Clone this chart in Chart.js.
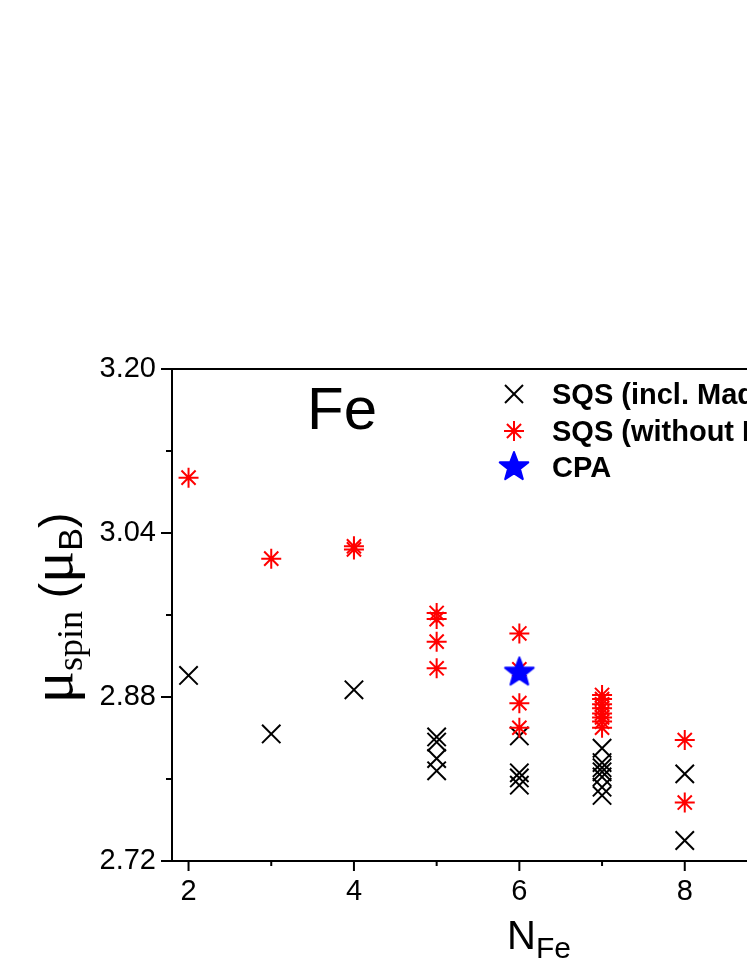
<!DOCTYPE html>
<html>
<head>
<meta charset="utf-8">
<script src="https://cdn.jsdelivr.net/npm/chart.js@4.4.0/dist/chart.umd.min.js"></script>
<style>
  html, body { margin: 0; padding: 0; overflow: hidden; background: #fff; }
  canvas { display: block; }
</style>
</head>
<body>
<canvas id="myChart" width="800" height="967"></canvas>
<script>
// SQS incl. Madelung (black crosses)
var madX = [2, 3, 4, 5, 5, 5, 5, 6, 6, 6, 6, 7, 7, 7, 7, 7, 7, 7, 8, 8];
var madY = [2.901, 2.844, 2.887, 2.841, 2.836, 2.820, 2.808, 2.842, 2.806, 2.801, 2.794,
            2.830, 2.816, 2.811, 2.807, 2.802, 2.792, 2.784, 2.805, 2.740];
// SQS without Madelung (red asterisks)
var noMadX = [2, 3, 4, 4, 5, 5, 5, 5, 6, 6, 6, 6, 7, 7, 7, 7, 7, 7, 7, 7, 8, 8];
var noMadY = [3.094, 3.015, 3.027, 3.024, 2.962, 2.956, 2.934, 2.908, 2.942, 2.907, 2.874, 2.850,
              2.882, 2.878, 2.873, 2.869, 2.864, 2.860, 2.856, 2.850, 2.838, 2.777];
// CPA (blue star)
var cpaX = [6];
var cpaY = [2.904];

var seriesLabels = ['SQS (incl. Madelung)', 'SQS (without Madelung)', 'CPA'];
var xTickLabels = [2, 4, 6, 8];
var xMinorTicks = [3, 5, 7, 9];
var yTickLabels = [2.72, 2.88, 3.04, 3.20];
var yMinorTicks = [2.80, 2.96, 3.12];

function toPoints(xs, ys) {
  return xs.map(function (x, i) { return { x: x, y: ys[i] }; });
}

function starPath(g, cx, cy, R) {
  g.beginPath();
  for (var i = 0; i < 10; i++) {
    var r = i % 2 ? R * 0.42 : R;
    var a = -Math.PI / 2 + i * Math.PI / 5;
    g.lineTo(cx + r * Math.cos(a), cy + r * Math.sin(a));
  }
  g.closePath();
}

function makeStar(R, color) {
  var c = document.createElement('canvas');
  var s = Math.ceil(2 * R + 6);
  c.width = s; c.height = s;
  var g = c.getContext('2d');
  starPath(g, s / 2, s / 2, R);
  g.fillStyle = color; g.fill();
  g.lineJoin = 'round'; g.lineWidth = 2; g.strokeStyle = color; g.stroke();
  return c;
}
var starImg = makeStar(15, '#0000ff');

var SANS = '"Liberation Sans", Arial, sans-serif';
var SERIF = '"Liberation Serif", "Times New Roman", serif';

function line(ctx, x1, y1, x2, y2) {
  ctx.beginPath(); ctx.moveTo(x1, y1); ctx.lineTo(x2, y2); ctx.stroke();
}

var frame = {
  id: 'frame',
  beforeDatasetsDraw: function (chart) {
    var ctx = chart.ctx, a = chart.chartArea, x = chart.scales.x, y = chart.scales.y;
    ctx.save();
    ctx.strokeStyle = '#000';
    ctx.lineWidth = 2;
    ctx.strokeRect(a.left, a.top, a.right - a.left, a.bottom - a.top);
    yTickLabels.forEach(function (v) { var p = y.getPixelForValue(v); line(ctx, a.left - 11, p, a.left, p); });
    yMinorTicks.forEach(function (v) { var p = y.getPixelForValue(v); line(ctx, a.left - 6, p, a.left, p); });
    xTickLabels.forEach(function (v) { var p = x.getPixelForValue(v); line(ctx, p, a.bottom, p, a.bottom + 10); });
    xMinorTicks.forEach(function (v) { var p = x.getPixelForValue(v); line(ctx, p, a.bottom, p, a.bottom + 5); });
    ctx.restore();
  },
  afterDraw: function (chart) {
    var ctx = chart.ctx;
    ctx.save();
    ctx.fillStyle = '#000';

    // "Fe" inside the plot
    ctx.font = '60px ' + SANS;
    ctx.textAlign = 'center';
    ctx.textBaseline = 'alphabetic';
    ctx.fillText('Fe', 342, 429);

    // legend
    var mx = 514, rows = [394, 431, 467], tx = 552;
    ctx.lineWidth = 2;
    ctx.strokeStyle = '#000';
    line(ctx, mx - 9, rows[0] - 9, mx + 9, rows[0] + 9);
    line(ctx, mx - 9, rows[0] + 9, mx + 9, rows[0] - 9);
    ctx.strokeStyle = '#ff0000';
    var r = 10, d = r * Math.SQRT1_2;
    line(ctx, mx - r, rows[1], mx + r, rows[1]);
    line(ctx, mx, rows[1] - r, mx, rows[1] + r);
    line(ctx, mx - d, rows[1] - d, mx + d, rows[1] + d);
    line(ctx, mx - d, rows[1] + d, mx + d, rows[1] - d);
    ctx.drawImage(starImg, mx - starImg.width / 2, rows[2] - starImg.height / 2);

    ctx.font = 'bold 29px ' + SANS;
    ctx.textAlign = 'left';
    seriesLabels.forEach(function (t, i) { ctx.fillText(t, tx, rows[i] + 10); });

    // x title: N_Fe
    ctx.font = '40px ' + SANS;
    ctx.fillText('N', 507, 949);
    var nw = ctx.measureText('N').width;
    ctx.font = '30px ' + SANS;
    ctx.fillText('Fe', 507 + nw, 958);

    // y title: mu_spin (mu_B), rotated
    var parts = [
      { t: '\u03bc', f: '60px ' + SERIF, dy: 0 },
      { t: 'spin', f: '36px ' + SERIF, dy: 10 },
      { t: ' (', f: '46px ' + SANS, dy: 0 },
      { t: '\u03bc', f: '60px ' + SERIF, dy: 0 },
      { t: 'B', f: '34px ' + SANS, dy: 10 },
      { t: ')', f: '46px ' + SANS, dy: 0 }
    ];
    var total = 0;
    parts.forEach(function (p) { ctx.font = p.f; p.w = ctx.measureText(p.t).width; total += p.w; });
    ctx.translate(72, 608);
    ctx.rotate(-Math.PI / 2);
    var px = -total / 2;
    parts.forEach(function (p) { ctx.font = p.f; ctx.fillText(p.t, px, p.dy); px += p.w; });
    ctx.restore();
  }
};

var ctx = document.getElementById('myChart');
var myChart = new Chart(ctx, {
  type: 'scatter',
  data: {
    datasets: [{
      label: seriesLabels[2],
      data: toPoints(cpaX, cpaY),
      pointStyle: starImg,
      pointRadius: 15,
      order: 0
    }, {
      label: seriesLabels[1],
      data: toPoints(noMadX, noMadY),
      pointStyle: 'star',
      pointRadius: 10,
      borderColor: '#ff0000',
      backgroundColor: '#ff0000',
      pointBorderWidth: 2,
      order: 1
    }, {
      label: seriesLabels[0],
      data: toPoints(madX, madY),
      pointStyle: 'crossRot',
      pointRadius: 13,
      borderColor: '#000000',
      backgroundColor: '#000000',
      pointBorderWidth: 2,
      order: 2
    }]
  },
  options: {
    responsive: false,
    maintainAspectRatio: false,
    animation: false,
    devicePixelRatio: 1,
    layout: { padding: { left: 100, top: 369, right: 15, bottom: 0 } },
    plugins: { legend: { display: false }, tooltip: { enabled: false } },
    scales: {
      x: {
        type: 'linear',
        min: 1.8,
        max: 9.2,
        afterBuildTicks: function (s) { s.ticks = xTickLabels.map(function (v) { return { value: v }; }); },
        afterFit: function (s) { s.height = 106; },
        ticks: { color: '#000', font: { family: SANS, size: 29 }, padding: 3,
                 callback: function (v) { return String(v); } },
        grid: { display: true, drawOnChartArea: false, drawTicks: true, tickLength: 11, color: 'rgba(0,0,0,0)' },
        border: { display: false }
      },
      y: {
        type: 'linear',
        min: 2.72,
        max: 3.20,
        afterBuildTicks: function (s) { s.ticks = yTickLabels.map(function (v) { return { value: v }; }); },
        afterFit: function (s) { s.width = 72; },
        ticks: { color: '#000', font: { family: SANS, size: 29 }, padding: 5,
                 callback: function (v) { return v.toFixed(2); } },
        grid: { display: true, drawOnChartArea: false, drawTicks: true, tickLength: 11, color: 'rgba(0,0,0,0)' },
        border: { display: false }
      }
    }
  },
  plugins: [frame]
});
</script>
</body>
</html>
